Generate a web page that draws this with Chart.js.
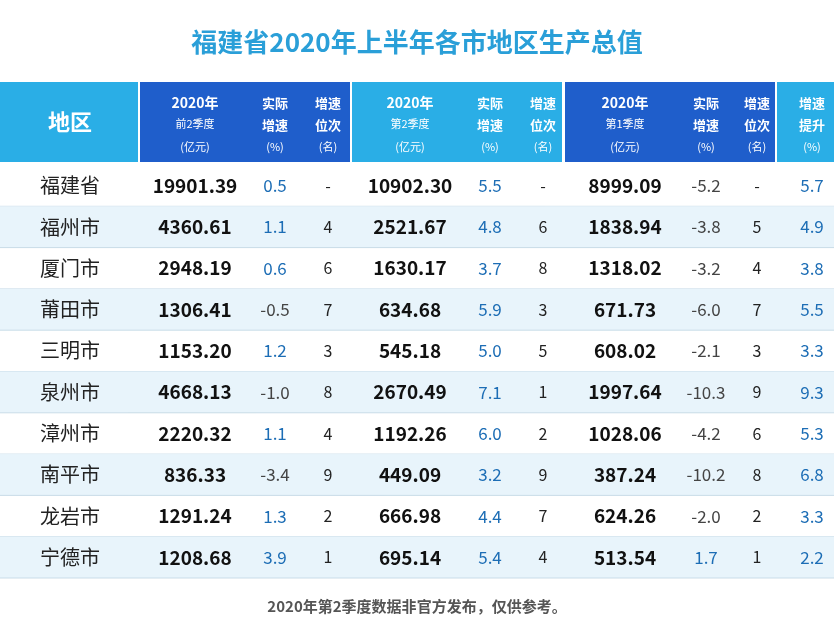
<!DOCTYPE html>
<html><head><meta charset="utf-8">
<script src="https://cdn.jsdelivr.net/npm/chart.js@4/dist/chart.umd.min.js"></script>
<style>html,body{margin:0;padding:0;background:#fff}#c{display:block}</style>
</head><body>
<div style="width:834px;height:622px"><canvas id="c"></canvas></div>
<script>
const regions = ["福建省","福州市","厦门市","莆田市","三明市","泉州市","漳州市","南平市","龙岩市","宁德市"];
const h1Values = ["19901.39","4360.61","2948.19","1306.41","1153.20","4668.13","2220.32","836.33","1291.24","1208.68"];
const h1Growth = [0.5,1.1,0.6,-0.5,1.2,-1.0,1.1,-3.4,1.3,3.9];
const h1Rank = ["-","4","6","7","3","8","4","9","2","1"];
const q2Values = ["10902.30","2521.67","1630.17","634.68","545.18","2670.49","1192.26","449.09","666.98","695.14"];
const q2Growth = [5.5,4.8,3.7,5.9,5.0,7.1,6.0,3.2,4.4,5.4];
const q2Rank = ["-","6","8","3","5","1","2","9","7","4"];
const q1Values = ["8999.09","1838.94","1318.02","671.73","608.02","1997.64","1028.06","387.24","624.26","513.54"];
const q1Growth = [-5.2,-3.8,-3.2,-6.0,-2.1,-10.3,-4.2,-10.2,-2.0,1.7];
const q1Rank = ["-","5","4","7","3","9","6","8","2","1"];
const growthUp = [5.7,4.9,3.8,5.5,3.3,9.3,5.3,6.8,3.3,2.2];

const titleText = "福建省2020年上半年各市地区生产总值";
const noteText = "2020年第2季度数据非官方发布，仅供参考。";
const headers = [
  ["2020年","前2季度","(亿元)"],["实际","增速","(%)"],["增速","位次","(名)"],
  ["2020年","第2季度","(亿元)"],["实际","增速","(%)"],["增速","位次","(名)"],
  ["2020年","第1季度","(亿元)"],["实际","增速","(%)"],["增速","位次","(名)"],
  ["增速","提升","(%)"]
];

// layout (pixel units of the linear scales)
const colX = [70,195,275,328,410,490,543,625,706,757,812];
const groups = [[0,138,"#2aaee6"],[140,350,"#1f5ecb"],[352,562,"#2aaee6"],[565,775,"#1f5ecb"],[777,834,"#2aaee6"]];
const headTop = 82, headBot = 162, rowTop = 165, rowH = 41.3;
const F = '"Noto Sans CJK SC", "Noto Sans", sans-serif';

const tablePlugin = {
  id: "table",
  afterDraw(chart) {
    const { ctx, scales: { x, y } } = chart;
    const px = (v) => x.getPixelForValue(v), py = (v) => y.getPixelForValue(v);
    ctx.save();
    ctx.textAlign = "center"; ctx.textBaseline = "middle";
    ctx.fillStyle = "#2a9fd8"; ctx.font = "bold 26px " + F;
    ctx.fillText(titleText, px(417), py(42));
    groups.forEach(([a, b, c]) => { ctx.fillStyle = c; ctx.fillRect(px(a), py(headTop), px(b) - px(a), py(headBot) - py(headTop)); });
    ctx.fillStyle = "#fff"; ctx.font = "bold 22px " + F;
    ctx.fillText("地区", px(colX[0]), py(122));
    headers.forEach((h, i) => {
      const wide = i % 3 === 0 && i < 9;
      ctx.font = (wide ? "bold 14px " : "bold 13px ") + F;
      ctx.fillText(h[0], px(colX[i + 1]), py(103));
      ctx.font = (wide ? "11px " : "bold 13px ") + F;
      ctx.fillText(h[1], px(colX[i + 1]), py(wide ? 124 : 125));
      ctx.font = "11px " + F;
      ctx.fillText(h[2], px(colX[i + 1]), py(147));
    });
    regions.forEach((r, i) => {
      const t = rowTop + i * rowH, cy = py(t + rowH / 2);
      if (i % 2 === 1) { ctx.fillStyle = "#e8f4fb"; ctx.fillRect(px(0), py(t), px(834) - px(0), py(t + rowH) - py(t)); }
      ctx.strokeStyle = "#c9dce8"; ctx.lineWidth = 1;
      ctx.beginPath(); ctx.moveTo(px(0), py(t + rowH)); ctx.lineTo(px(834), py(t + rowH)); ctx.stroke();
      const put = (txt, ci, font, col) => { ctx.font = font; ctx.fillStyle = col; ctx.fillText(txt, px(colX[ci]), cy); };
      const g = (v) => v.toFixed(1), gc = (v) => v >= 0 ? "#1c6db5" : "#444";
      put(r, 0, "20px " + F, "#222");
      put(h1Values[i], 1, "bold 19px " + F, "#111");
      put(g(h1Growth[i]), 2, "17px " + F, gc(h1Growth[i]));
      put(h1Rank[i], 3, "16px " + F, "#222");
      put(q2Values[i], 4, "bold 19px " + F, "#111");
      put(g(q2Growth[i]), 5, "17px " + F, gc(q2Growth[i]));
      put(q2Rank[i], 6, "16px " + F, "#222");
      put(q1Values[i], 7, "bold 19px " + F, "#111");
      put(g(q1Growth[i]), 8, "17px " + F, gc(q1Growth[i]));
      put(q1Rank[i], 9, "16px " + F, "#222");
      put(g(growthUp[i]), 10, "17px " + F, "#1c6db5");
    });
    ctx.fillStyle = "#555"; ctx.font = "bold 15px " + F;
    ctx.fillText(noteText, px(417), py(606));
    ctx.restore();
  }
};

new Chart(document.getElementById("c"), {
  type: "scatter",
  data: { datasets: [{ data: regions.map((r, i) => ({ x: colX[0], y: rowTop + i * rowH + rowH / 2 })), pointRadius: 0 }] },
  options: {
    responsive: true, maintainAspectRatio: false, animation: false,
    layout: { padding: 0 },
    plugins: { legend: { display: false }, tooltip: { enabled: false } },
    scales: {
      x: { type: "linear", min: 0, max: 834, display: false },
      y: { type: "linear", min: 0, max: 622, reverse: true, display: false }
    }
  },
  plugins: [tablePlugin]
});
</script>
</body></html>
